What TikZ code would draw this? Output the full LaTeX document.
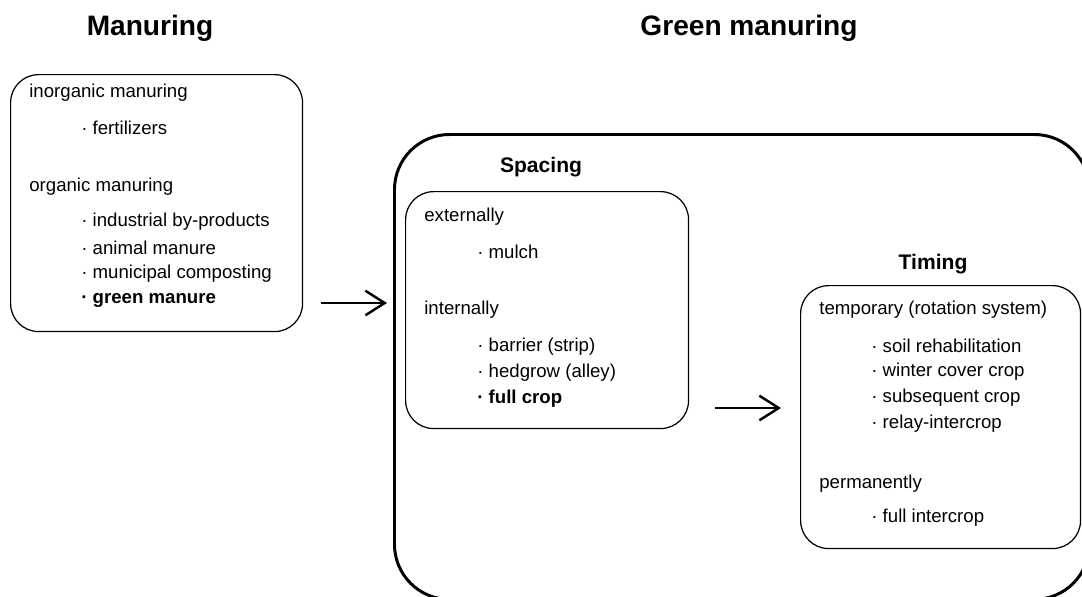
\documentclass[tikz,border=0pt]{standalone}
\usepackage{fontspec}
\setmainfont{Liberation Sans}
\usetikzlibrary{arrows.meta}
\tikzset{
	panel/.style={draw, line width=0.7pt, rounded corners=0.56cm, anchor=north west, inner sep=0pt},
	outer/.style={draw, line width=1.7pt, rounded corners=1.1cm, anchor=north west, inner sep=0pt},
	head/.style={font=\fontsize{16}{19}\selectfont\bfseries},
	subhead/.style={font=\fontsize{12}{14}\selectfont\bfseries},
	entry/.style={anchor=west, inner sep=0pt, font=\fontsize{10.6}{12}\selectfont},
	flow/.style={line width=1.4pt, -{Straight Barb[length=11pt, width=14pt, line width=1.4pt]}}
}

\begin{document}
\begin{tikzpicture}[x=0.02cm, y=-0.02cm]
	\useasboundingbox (0,0) rectangle (1082,596);
	% titles
	\node[head] (tman) at (150,28) {Manuring};
	\node[head] (tgreen) at (749,28) {Green manuring};
	% manuring box
	\node[panel, minimum width=5.84cm, minimum height=5.14cm] (manbox) at (10,74) {};
	\node[entry] (inorg) at (29,93) {inorganic manuring};
	\node[entry] (fert) at (81,128) {· fertilizers};
	\node[entry] (org) at (29,187) {organic manuring};
	\foreach \t [count=\i] in {industrial by-products, animal manure, municipal composting}
		\node[entry] (org\i) at (81,{196+26*\i}) {· \t};
	\node[entry] (gman) at (81,300) {\textbf{· green manure}};
	% green manuring box
	\begin{scope}
		\clip (0,0) rectangle (1082,596);
		\node[outer, minimum width=13.9cm, minimum height=9.3cm] (greenbox) at (393,133) {};
	\end{scope}
	\draw[flow] ([xshift=0.36cm]manbox.east |- 0,303) -- ([xshift=-0.12cm]greenbox.west |- 0,303);
	% spacing
	\node[subhead] (tspace) at (541,167) {Spacing};
	\node[panel, minimum width=5.66cm, minimum height=4.74cm] (spacebox) at (405,191) {};
	\node[entry] (ext) at (424,217) {externally};
	\node[entry] (mulch) at (477,252) {· mulch};
	\node[entry] (int) at (424,310) {internally};
	\foreach \t [count=\i] in {barrier (strip), hedgrow (alley)}
		\node[entry] (int\i) at (477,{321+26*\i}) {· \t};
	\node[entry] (fcrop) at (477,399) {\textbf{· full crop}};
	% timing
	\node[subhead] (ttime) at (933,264) {Timing};
	\node[panel, minimum width=5.6cm, minimum height=5.26cm] (timebox) at (800,285) {};
	\node[entry] (temp) at (819,310) {temporary (rotation system)};
	\foreach \t [count=\i] in {soil rehabilitation, winter cover crop, subsequent crop, relay-intercrop}
		\node[entry] (temp\i) at (871,{320+26*\i}) {· \t};
	\node[entry] (perm) at (819,484) {permanently};
	\node[entry] (perm1) at (871,518) {· full intercrop};
	\draw[flow] ([xshift=0.52cm]spacebox.east |- 0,408) -- ([xshift=-0.38cm]timebox.west |- 0,408);
\end{tikzpicture}
\end{document}
